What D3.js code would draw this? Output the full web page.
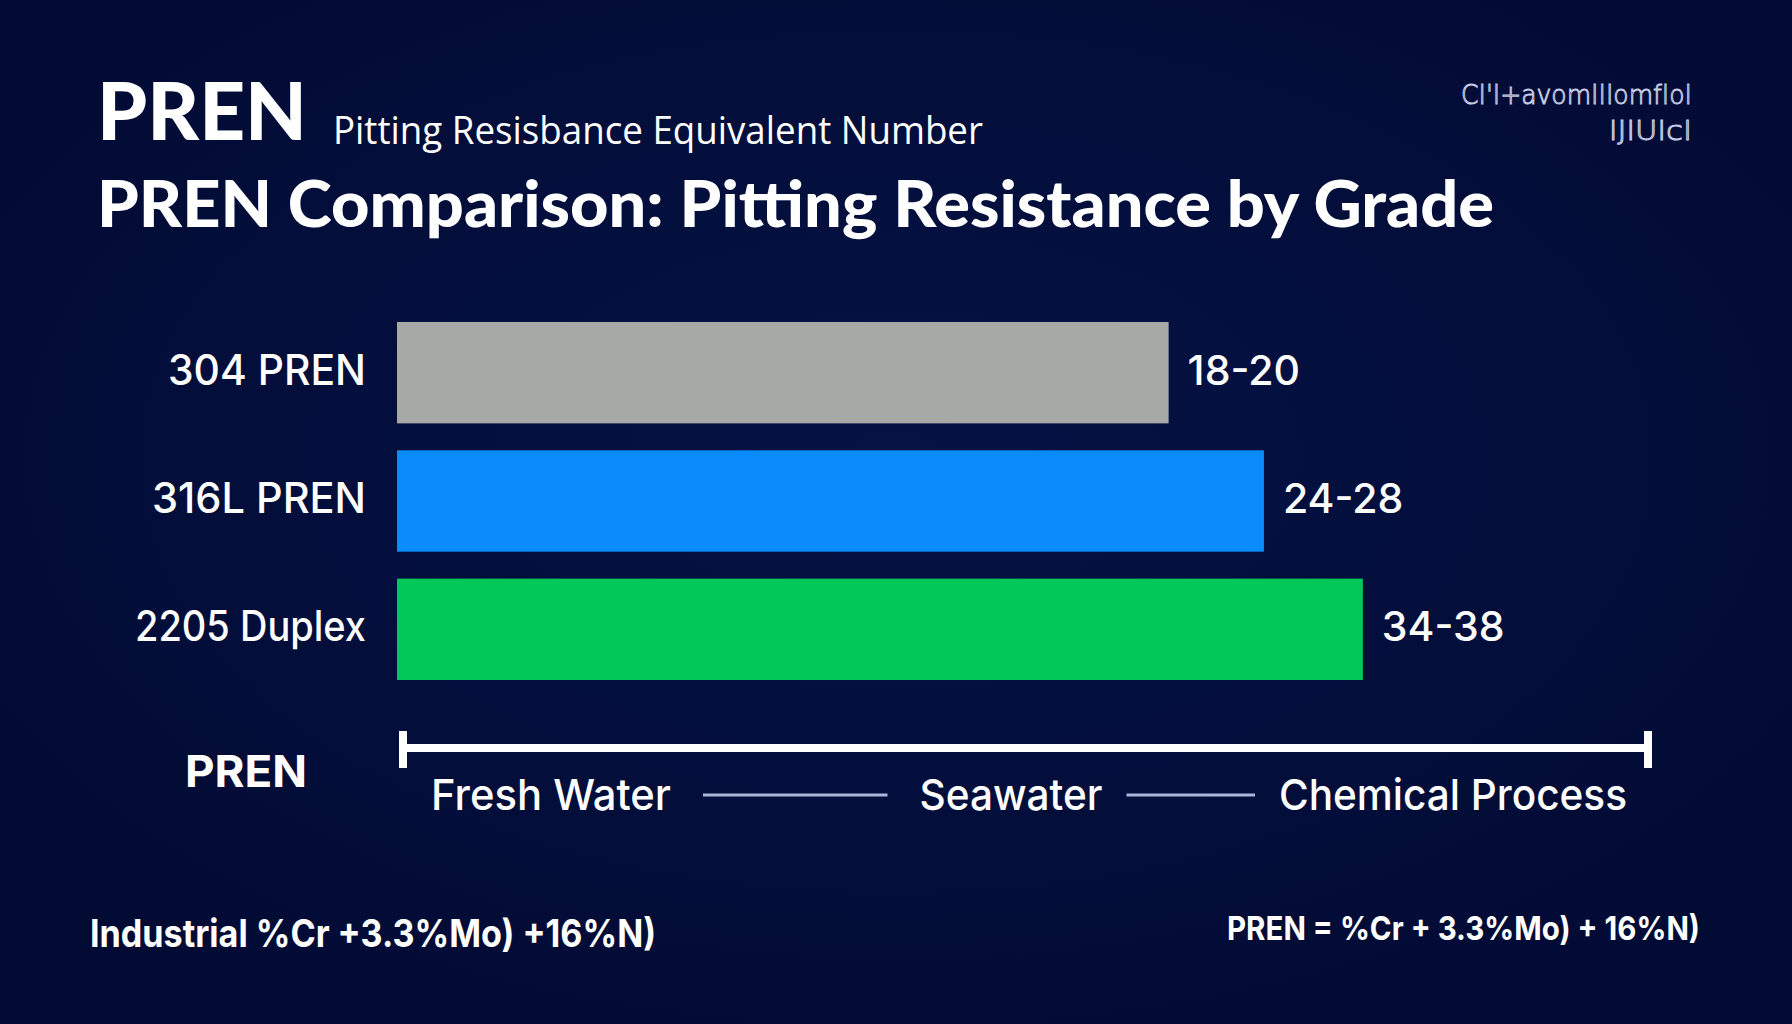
<!DOCTYPE html>
<html>
<head>
<meta charset="utf-8">
<script src="https://cdn.jsdelivr.net/npm/d3@7"></script>
<style>
  html, body { margin: 0; padding: 0; background: #020b36; }
  svg { display: block; }
</style>
</head>
<body>
<div class="chart"></div>
<script>
// data
const grades = ["304 PREN", "316L PREN", "2205 Duplex"];
const prenLow = [18, 24, 34];
const prenHigh = [20, 28, 38];
const barColors = ["#a7a9a7", "#0a8cfc", "#02c85a"];
const zones = ["Fresh Water", "Seawater", "Chemical Process"];

const W = 1792, H = 1024;
const font = "Inter, 'Noto Sans', sans-serif";

const dataSet = grades.map((g, i) => ({
  label: g,
  low: prenLow[i],
  high: prenHigh[i],
  mid: (prenLow[i] + prenHigh[i]) / 2,
  color: barColors[i]
}));

const svg = d3.select(".chart").append("svg")
  .attr("width", W)
  .attr("height", H);

// background
const defs = svg.append("defs");
const grad = defs.append("radialGradient")
  .attr("id", "bg")
  .attr("cx", "50%").attr("cy", "45%").attr("r", "70%");
grad.append("stop").attr("offset", "0%").attr("stop-color", "#051244");
grad.append("stop").attr("offset", "100%").attr("stop-color", "#010a32");
svg.append("rect").attr("width", W).attr("height", H).attr("fill", "url(#bg)");

// stretch/squeeze a text node to a given width
function fit(sel, width) {
  sel.attr("textLength", width).attr("lengthAdjust", "spacingAndGlyphs");
  return sel;
}

// header
fit(svg.append("text")
  .attr("x", 97).attr("y", 140)
  .attr("fill", "#fff")
  .style("font-family", "Lato, " + font)
  .style("font-weight", 900)
  .style("font-size", "80px")
  .text("PREN"), 210);

fit(svg.append("text")
  .attr("x", 333).attr("y", 144)
  .attr("fill", "#fff")
  .style("font-family", "'Open Sans', " + font)
  .style("font-weight", 400)
  .style("font-size", "38px")
  .text("Pitting Resisbance Equivalent Number"), 650);

fit(svg.append("text")
  .attr("x", 97).attr("y", 227)
  .attr("fill", "#fff")
  .style("font-family", "Lato, " + font)
  .style("font-weight", 900)
  .style("font-size", "64px")
  .text("PREN Comparison: Pitting Resistance by Grade"), 1397);

// garbled logo, top right
const logo = svg.append("g")
  .attr("fill", "none")
  .attr("stroke", "#c9cfe8")
  .attr("stroke-width", 1)
  .style("font-family", "'DejaVu Sans', sans-serif")
  .style("font-weight", 300)
  .style("font-size", "26px");
fit(logo.append("text").attr("x", 1461).attr("y", 104).text("CI'I+avomIIIomfIoI"), 231);
fit(logo.append("text").attr("x", 1609).attr("y", 140).text("lJlUlcI"), 83);

// scales
// bar end follows the mid value of each range on a log scale
const x = d3.scaleLog()
  .domain([1.5, 92])
  .range([397, 1648]);

const y = d3.scaleBand()
  .domain(grades)
  .range([322, 680])
  .paddingInner(0.21)
  .paddingOuter(0);

// bars
svg.selectAll("rect.bar")
  .data(dataSet)
  .enter()
  .append("rect")
  .attr("class", "bar")
  .attr("x", x.range()[0])
  .attr("y", d => y(d.label))
  .attr("width", d => x(d.mid) - x.range()[0])
  .attr("height", y.bandwidth())
  .attr("fill", d => d.color);

// category labels
const catWidths = [198, 214, 231];
svg.selectAll("text.cat")
  .data(dataSet)
  .enter()
  .append("text")
  .attr("class", "cat")
  .attr("x", (d, i) => 366 - catWidths[i])
  .attr("y", d => y(d.label) + y.bandwidth() / 2 + 12)
  .attr("textLength", (d, i) => catWidths[i])
  .attr("lengthAdjust", "spacingAndGlyphs")
  .attr("fill", "#fff")
  .style("font-family", font)
  .style("font-weight", 500)
  .style("font-size", "42px")
  .text(d => d.label);

// value labels
svg.selectAll("text.val")
  .data(dataSet)
  .enter()
  .append("text")
  .attr("class", "val")
  .attr("x", d => x(d.mid) + 19)
  .attr("y", d => y(d.label) + y.bandwidth() / 2 + 12)
  .attr("fill", "#fff")
  .style("font-family", font)
  .style("font-weight", 500)
  .style("font-size", "41px")
  .text(d => `${d.low}-${d.high}`);

// PREN scale bar
const axisY = 748;
const ax0 = x.range()[0] + 6, ax1 = x.range()[1];
const axis = svg.append("g").attr("stroke", "#fff");
axis.append("line")
  .attr("x1", ax0).attr("x2", ax1)
  .attr("y1", axisY).attr("y2", axisY)
  .attr("stroke-width", 8);
axis.selectAll("line.end")
  .data([ax0, ax1])
  .enter()
  .append("line")
  .attr("class", "end")
  .attr("x1", d => d).attr("x2", d => d)
  .attr("y1", axisY - 17).attr("y2", axisY + 20)
  .attr("stroke-width", 8);

fit(svg.append("text")
  .attr("x", 185).attr("y", 787)
  .attr("fill", "#fff")
  .style("font-family", font)
  .style("font-weight", 700)
  .style("font-size", "44px")
  .text("PREN"), 122);

// environment zones under the scale
const zx = d3.scaleOrdinal()
  .domain(zones)
  .range([551, 1011, 1453]);
const zoneWidths = [240, 183, 348];

const zoneText = svg.selectAll("text.zone")
  .data(zones)
  .enter()
  .append("text")
  .attr("class", "zone")
  .attr("x", (d, i) => zx(d) - zoneWidths[i] / 2)
  .attr("y", 810)
  .attr("textLength", (d, i) => zoneWidths[i])
  .attr("lengthAdjust", "spacingAndGlyphs")
  .attr("fill", "#fff")
  .style("font-family", font)
  .style("font-weight", 500)
  .style("font-size", "43px")
  .text(d => d);

for (let i = 0; i < zones.length - 1; i++) {
  const gap = i === 0 ? 32 : 24;
  svg.append("line")
    .attr("x1", zx(zones[i]) + zoneWidths[i] / 2 + gap)
    .attr("x2", zx(zones[i + 1]) - zoneWidths[i + 1] / 2 - gap)
    .attr("y1", 795).attr("y2", 795)
    .attr("stroke", "#aab6da")
    .attr("stroke-width", 3);
}

// footer formulas
fit(svg.append("text")
  .attr("x", 90).attr("y", 947)
  .attr("fill", "#fff")
  .style("font-family", font)
  .style("font-weight", 700)
  .style("font-size", "38px")
  .text("Industrial %Cr +3.3%Mo) +16%N)"), 566);

fit(svg.append("text")
  .attr("x", 1227).attr("y", 940)
  .attr("fill", "#fff")
  .style("font-family", font)
  .style("font-weight", 700)
  .style("font-size", "33px")
  .text("PREN = %Cr + 3.3%Mo) + 16%N)"), 473);
</script>
</body>
</html>
